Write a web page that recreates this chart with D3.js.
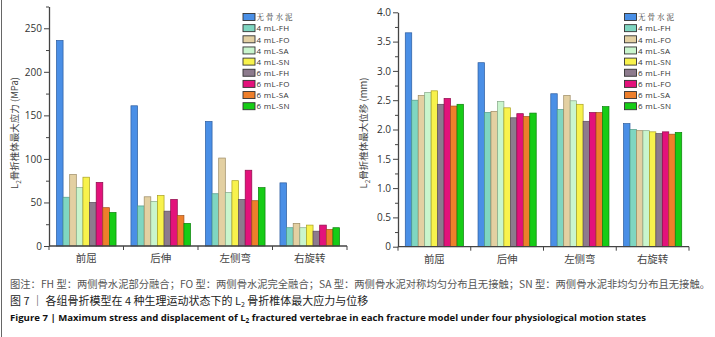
<!DOCTYPE html>
<html>
<head>
<meta charset="utf-8">
<script src="https://cdn.jsdelivr.net/npm/d3@7"></script>
<style>
  body { margin: 0; background: #fff; }
  .tick text { font-family: "Open Sans", "Liberation Sans", sans-serif; fill: #333; }
  .cat text { font-family: "Noto Sans CJK SC", serif; fill: #444; }
</style>
</head>
<body>
<script>
var motions = ["前屈", "后伸", "左侧弯", "右旋转"];
var groups = ["无骨水泥", "4 mL-FH", "4 mL-FO", "4 mL-SA", "4 mL-SN", "6 mL-FH", "6 mL-FO", "6 mL-SA", "6 mL-SN"];
var colors = ["#4a8fe6", "#7fd6c1", "#e3d0a2", "#c9f5cd", "#f8f24c", "#8d7b8d", "#e3127b", "#ee7f2b", "#16cc16"];
var strokes = ["#2c5c9e", "#4f9a88", "#9c8a62", "#86a888", "#a8a020", "#5a4a5a", "#8c0a4a", "#a0501a", "#0a800a"];

// max stress (MPa), one array per motion, in group order
var stressFlex = [236, 56, 82, 67, 79, 50, 73, 44, 38.5];
var stressExt = [161, 46, 56.5, 51, 58, 40, 53.5, 35, 26];
var stressLat = [143, 60, 101, 61.5, 75, 53.5, 87, 52, 67];
var stressRot = [72.5, 21, 26, 21, 24, 17, 24, 19, 21];

// max displacement (mm)
var dispFlex = [3.65, 2.50, 2.58, 2.63, 2.66, 2.43, 2.53, 2.40, 2.43];
var dispExt = [3.14, 2.29, 2.31, 2.48, 2.37, 2.20, 2.27, 2.22, 2.28];
var dispLat = [2.61, 2.34, 2.58, 2.49, 2.43, 2.14, 2.29, 2.29, 2.39];
var dispRot = [2.10, 2.00, 1.98, 1.98, 1.96, 1.93, 1.96, 1.92, 1.95];

var stressTicks = [0, 50, 100, 150, 200, 250];
var dispTicks = [0, 0.5, 1.0, 1.5, 2.0, 2.5, 3.0, 3.5, 4.0];

var svg = d3.select("body").append("svg")
  .attr("width", 715)
  .attr("height", 337)
  .style("font-family", "'Noto Sans CJK SC', sans-serif");

svg.append("rect").attr("width", 715).attr("height", 337).attr("fill", "#fff");
// left frame line
svg.append("line")
  .attr("x1", 1.5).attr("x2", 1.5).attr("y1", 0).attr("y2", 337)
  .attr("stroke", "#666").attr("stroke-width", 1);

function drawPanel(opt) {
  var rows = opt.rows;
  var x0 = d3.scaleBand().domain(motions).range([opt.left, opt.right]);
  var pad = x0.bandwidth() * 0.1;
  var x1 = d3.scaleBand().domain(groups).range([pad, x0.bandwidth() - pad]);
  var y = d3.scaleLinear().domain(opt.domain).range([opt.bottom, opt.top]);

  var g = svg.append("g");

  //bars
  motions.forEach(function(m, mi) {
    g.append("g")
      .attr("transform", "translate(" + x0(m) + ",0)")
      .selectAll("rect")
      .data(rows[mi])
      .enter().append("rect")
        .attr("x", function(d, i) { return x1(groups[i]); })
        .attr("y", function(d) { return y(d); })
        .attr("width", x1.bandwidth())
        .attr("height", function(d) { return y(0) - y(d); })
        .attr("fill", function(d, i) { return colors[i]; })
        .attr("stroke", function(d, i) { return strokes[i]; })
        .attr("stroke-width", 0.7);
  });

  //minor ticks
  var minor = [];
  for (var i = 0; i < opt.ticks.length - 1; i++) {
    minor.push((opt.ticks[i] + opt.ticks[i + 1]) / 2);
  }
  if (opt.extraMinor) minor.push(opt.extraMinor);
  g.append("g")
    .attr("transform", "translate(" + opt.left + ",0)")
    .call(d3.axisLeft(y).tickValues(minor).tickSize(3).tickFormat(""))
    .call(function(a) {
      a.select(".domain").remove();
      a.selectAll("line").attr("stroke", "#444");
    });

  //y axis
  g.append("g")
    .attr("transform", "translate(" + opt.left + ",0)")
    .call(d3.axisLeft(y).tickValues(opt.ticks).tickSize(5).tickSizeOuter(0).tickPadding(2).tickFormat(opt.fmt))
    .call(function(a) {
      a.select(".domain").attr("stroke", "#444").attr("stroke-width", 1.3);
      a.selectAll("line").attr("stroke", "#444");
      a.selectAll("text").style("font-size", "10px");
    });

  //x axis
  var xa = g.append("g")
    .attr("class", "cat")
    .attr("transform", "translate(0," + opt.bottom + ")");
  xa.append("line")
    .attr("x1", opt.left).attr("x2", opt.right)
    .attr("stroke", "#444").attr("stroke-width", 1.3);
  xa.selectAll(".bt")
    .data(motions.concat(["end"]))
    .enter().append("line")
      .attr("x1", function(d, i) { return i < motions.length ? x0(d) : opt.right; })
      .attr("x2", function(d, i) { return i < motions.length ? x0(d) : opt.right; })
      .attr("y1", 0).attr("y2", 4)
      .attr("stroke", "#444");
  xa.selectAll("text")
    .data(motions)
    .enter().append("text")
      .attr("x", function(d) { return x0(d) + x0.bandwidth() / 2; })
      .attr("y", 16)
      .attr("text-anchor", "middle")
      .style("font-size", "10.5px")
      .text(function(d) { return d; });

  //y label
  var lab = svg.append("text")
    .attr("transform", "translate(" + opt.labelX + "," + opt.labelY + ") rotate(-90)")
    .attr("text-anchor", "middle")
    .style("font-size", "9.5px")
    .attr("fill", "#444");
  lab.append("tspan").text("L");
  lab.append("tspan").attr("dy", 2.5).style("font-size", "6.5px").text("2");
  lab.append("tspan").attr("dy", -2.5).text(opt.label);

  //legend
  var lg = svg.append("g").attr("transform", "translate(" + opt.legendX + ",17)");
  var row = lg.selectAll("g")
    .data(groups)
    .enter().append("g")
      .attr("transform", function(d, i) { return "translate(0," + (i * 11.15) + ")"; });
  row.append("rect")
    .attr("x", 0).attr("y", -3.5)
    .attr("width", 12).attr("height", 7)
    .attr("fill", function(d, i) { return colors[i]; })
    .attr("stroke", "#333").attr("stroke-width", 0.9);
  row.append("text")
    .attr("x", 13.5)
    .attr("y", 3.2)
    .style("font-family", function(d, i) { return i === 0 ? "'Noto Serif CJK SC', 'Noto Sans CJK SC', serif" : "'Open Sans', sans-serif"; })
    .style("font-size", function(d, i) { return i === 0 ? "7.5px" : "8px"; })
    .style("letter-spacing", function(d, i) { return i === 0 ? "2px" : "0.3px"; })
    .attr("fill", "#333")
    .text(function(d) { return d; });
}

drawPanel({
  rows: [stressFlex, stressExt, stressLat, stressRot],
  left: 49, right: 347, top: 6.5, bottom: 246,
  domain: [0, 275],
  ticks: stressTicks,
  extraMinor: 275,
  fmt: d3.format("d"),
  label: "骨折椎体最大应力 (MPa)",
  labelX: 18, labelY: 133,
  legendX: 243
});

drawPanel({
  rows: [dispFlex, dispExt, dispLat, dispRot],
  left: 398, right: 689, top: 12.3, bottom: 246.7,
  domain: [0, 4],
  ticks: dispTicks,
  fmt: function(d) { return d === 0 ? "0" : d3.format(".1f")(d); },
  label: "骨折椎体最大位移 (mm)",
  labelX: 367, labelY: 133,
  legendX: 624.5
});

//caption
svg.append("text")
  .attr("x", 10).attr("y", 287.5)
  .attr("textLength", 700).attr("lengthAdjust", "spacingAndGlyphs")
  .style("font-size", "10px")
  .attr("fill", "#555")
  .text("图注：FH 型：两侧骨水泥部分融合；FO 型：两侧骨水泥完全融合；SA 型：两侧骨水泥对称均匀分布且无接触；SN 型：两侧骨水泥非均匀分布且无接触。");

var c2 = svg.append("text")
  .attr("x", 10).attr("y", 305)
  .style("font-size", "11px")
  .attr("fill", "#222");
c2.append("tspan").text("图 7 ｜ 各组骨折模型在 4 种生理运动状态下的 L");
c2.append("tspan").attr("dy", 2).style("font-size", "7px").text("2");
c2.append("tspan").attr("dy", -2).text(" 骨折椎体最大应力与位移");

var c3 = svg.append("text")
  .attr("x", 10).attr("y", 320.5)
  .style("font-family", "'Open Sans', sans-serif")
  .style("font-weight", "bold")
  .style("font-size", "9.6px")
  .attr("fill", "#111");
c3.append("tspan").text("Figure 7  |  Maximum stress and displacement of L");
c3.append("tspan").attr("dy", 2).style("font-size", "6.5px").text("2");
c3.append("tspan").attr("dy", -2).text(" fractured vertebrae in each fracture model under four physiological motion states");
</script>
</body>
</html>
